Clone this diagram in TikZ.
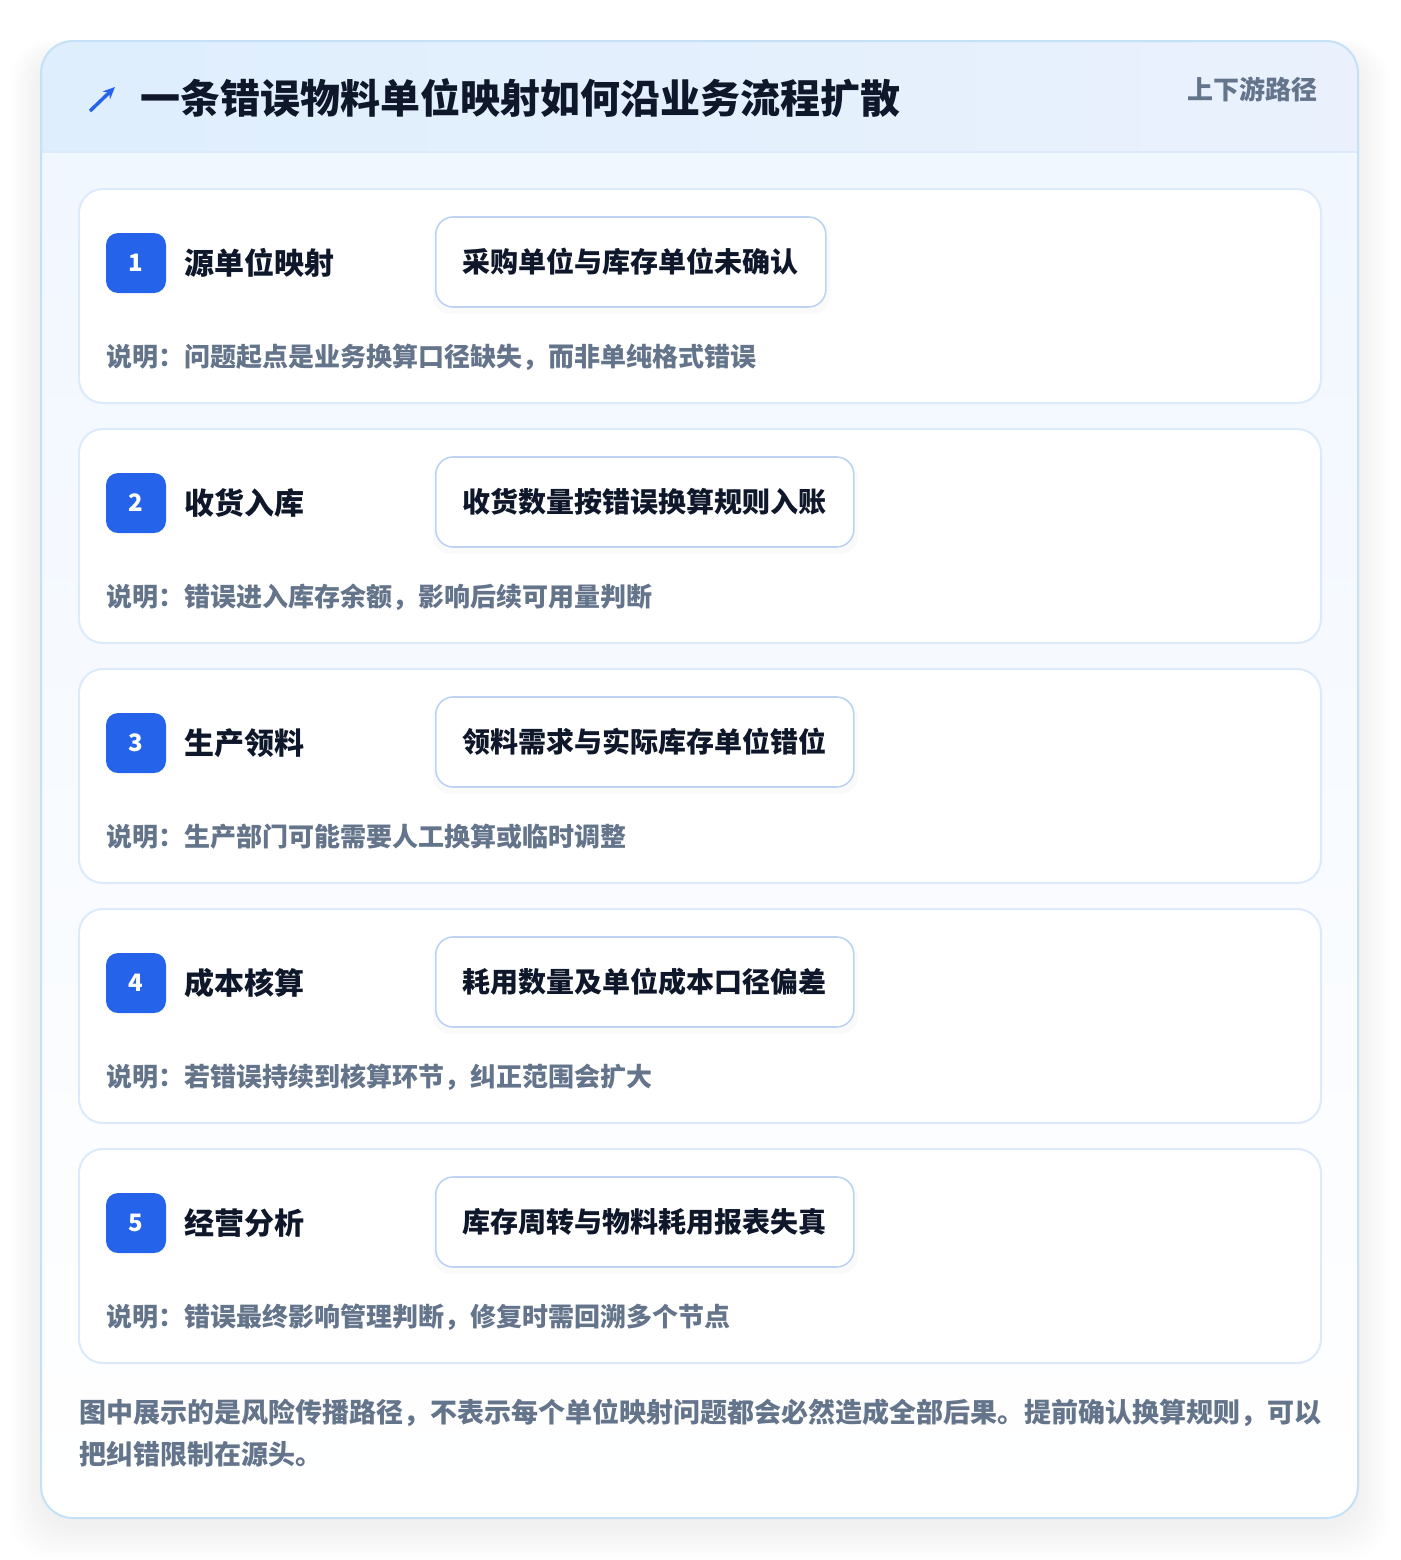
\documentclass[tikz,border=0pt]{standalone}
\usepackage{fontspec}
\setmainfont{Noto Sans CJK SC}
\usetikzlibrary{arrows.meta}
\definecolor{ink}{HTML}{0F172A}
\definecolor{mute}{HTML}{64748B}
\definecolor{brand}{HTML}{2563EB}
\definecolor{outerline}{HTML}{C4E1F7}
\definecolor{cardline}{HTML}{DCEAFB}
\definecolor{pillline}{HTML}{BCD4F2}
\definecolor{headL}{HTML}{DEEEFD}
\definecolor{headR}{HTML}{EAF1FD}
\definecolor{bodyT}{HTML}{F1F7FF}
\tikzset{
  x=0.75pt, y=-0.75pt,
  stepcard/.style={draw=cardline, line width=1.5pt, fill=white, rounded corners=18pt},
  badge/.style={fill=brand, rounded corners=9pt, minimum width=45pt, minimum height=45pt, inner sep=0pt, text=white, font=\fontsize{18pt}{20pt}\selectfont\bfseries},
  steptitle/.style={anchor=west, inner sep=0pt, text=ink, font=\fontsize{22.5pt}{26pt}\selectfont\bfseries},
  pill/.style={anchor=west, draw=pillline, line width=1.2pt, fill=white, rounded corners=13pt, minimum height=67.5pt, inner xsep=20.25pt, text=ink, font=\fontsize{21pt}{24pt}\selectfont\bfseries},
  desc/.style={anchor=west, inner sep=0pt, text=mute, font=\fontsize{19.5pt}{22pt}\selectfont\bfseries},
}
\begin{document}
\begin{tikzpicture}
\useasboundingbox (0,0) rectangle (1400,1560);
\fill[white] (0,0) rectangle (1400,1560);
% outer shadow
\foreach \k in {1,...,14}{
  \fill[black, opacity=0.0055, rounded corners=30pt] (41-2.2*\k,41+10-0.8*\k) rectangle (1358+2.2*\k,1518+8+2.4*\k);
}
% outer card
\fill[white, rounded corners=24pt] (41,41) rectangle (1358,1518);
\begin{scope}
  \clip[rounded corners=24pt] (41,41) rectangle (1358,1518);
  \shade[top color=bodyT, bottom color=white] (41,152) rectangle (1358,1518);
  \shade[left color=headL, right color=headR] (41,41) rectangle (1358,152);
  \draw[cardline, line width=1.2pt] (41,152) -- (1358,152);
\end{scope}
\draw[outerline, line width=1.5pt, rounded corners=24pt] (41,41) rectangle (1358,1518);
% header
\coordinate (arrowS) at (90,111);
\coordinate (arrowE) at (115,87);
\draw[brand, line width=2.6pt, -{Stealth[length=9pt,width=8pt]}] (arrowS) -- (arrowE);
\node[anchor=west, inner sep=0pt, text=ink, font=\fontsize{30pt}{34pt}\selectfont\bfseries] (title) at (140,98) {一条错误物料单位映射如何沿业务流程扩散};
\node[anchor=east, inner sep=0pt, text=mute, font=\fontsize{19.5pt}{22pt}\selectfont\bfseries] (tag) at (1318,89) {上下游路径};
% steps
\foreach \i/\st/\pt/\ds/\pr in {
  1/源单位映射/采购单位与库存单位未确认/说明：问题起点是业务换算口径缺失，而非单纯格式错误/830,
  2/收货入库/收货数量按错误换算规则入账/说明：错误进入库存余额，影响后续可用量判断/858,
  3/生产领料/领料需求与实际库存单位错位/说明：生产部门可能需要人工换算或临时调整/858,
  4/成本核算/耗用数量及单位成本口径偏差/说明：若错误持续到核算环节，纠正范围会扩大/858,
  5/经营分析/库存周转与物料耗用报表失真/说明：错误最终影响管理判断，修复时需回溯多个节点/858}{
  \pgfmathsetmacro{\ctop}{189+240*(\i-1)}
  \draw[stepcard] (79,\ctop) rectangle (1321,\ctop+214);
  \node[badge] (b\i) at (136,\ctop+74) {\i};
  \node[steptitle] (t\i) at (184,\ctop+74) {\st};
  \fill[black, opacity=0.02, rounded corners=13pt] (433,\ctop+30) rectangle (\pr,\ctop+125);
  \node[pill] (p\i) at (435,\ctop+73) {\pt};
  \node[desc] (d\i) at (106,\ctop+168) {\ds};
}
% footer
\node[anchor=north west, inner sep=0pt, align=left, text=mute, font=\fontsize{20.25pt}{31.5pt}\selectfont\bfseries] (foot) at (79,1399) {图中展示的是风险传播路径，不表示每个单位映射问题都会必然造成全部后果。提前确认换算规则，可以\\把纠错限制在源头。};
\end{tikzpicture}
\end{document}
